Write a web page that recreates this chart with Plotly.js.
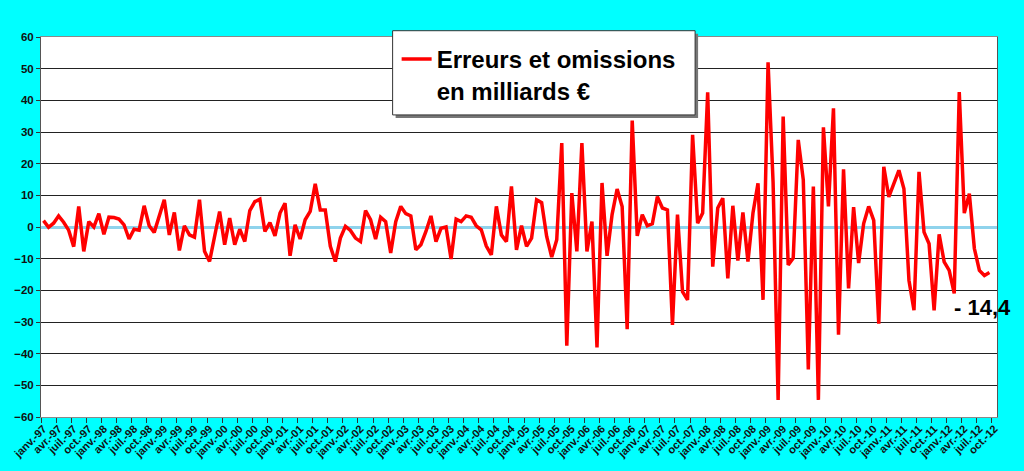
<!DOCTYPE html>
<html>
<head>
<meta charset="utf-8">
<script src="https://cdn.plot.ly/plotly-3.0.1.min.js"></script>
<style>
  html, body { margin: 0; padding: 0; background: #00FFFF; }
  #chart { width: 1024px; height: 471px; }
</style>
</head>
<body>
<div id="chart"></div>
<script>
// Month names (French abbreviations) and years covered by the category axis
const monthNames = ['janv.', 'févr.', 'mars', 'avr.', 'mai', 'juin', 'juil.', 'août', 'sept.', 'oct.', 'nov.', 'déc.'];
const firstYear = 1997;
const categoryCount = 190; // janv.-97 ... oct.-12

// Monthly errors and omissions, in billions of euros
const values = [
  2.0, -0.1, 1.2, 3.5, 1.5, -1.0, -6.2, 6.5, -7.7, 1.7, 0.0, 4.2,
  -2.3, 3.1, 3.0, 2.5, 0.7, -3.8, -0.7, -1.0, 6.7, 0.4, -1.7, 3.9,
  8.6, -2.5, 4.6, -7.4, 0.4, -2.5, -3.2, 8.6, -7.7, -10.9, -3.0, 4.9,
  -5.6, 2.8, -5.6, -0.7, -4.6, 5.2, 8.0, 8.8, -1.4, 1.4, -2.8, 4.4,
  7.5, -9.1, 0.7, -3.8, 2.3, 4.9, 13.6, 5.4, 5.4, -6.1, -10.9, -3.5,
  0.2, -1.1, -3.5, -4.6, 5.2, 2.3, -3.8, 3.1, 1.7, -8.2, 1.7, 6.5,
  4.2, 3.5, -7.2, -5.6, -1.4, 3.5, -4.6, -0.4, 0.0, -10.1, 2.5, 1.7,
  3.5, 3.1, 0.4, -0.9, -6.0, -8.8, 6.5, -2.5, -4.6, 12.8, -7.2, 0.4,
  -6.1, -3.5, 8.6, 7.7, -3.0, -9.5, -4.0, 26.5, -37.5, 10.7, -7.7, 26.5,
  -7.7, 1.7, -38.0, 13.9, -9.1, 3.9, 12.0, 6.5, -32.3, 33.6, -2.8, 3.9,
  0.4, 1.0, 9.6, 6.0, 5.4, -30.9, 3.9, -20.4, -23.0, 29.1, 1.2, 4.4,
  42.5, -12.5, 6.0, 9.1, -16.2, 6.7, -10.6, 4.6, -10.9, 4.4, 13.8, -23.0,
  52.0, 14.0, -54.6, 34.9, -12.0, -9.8, 27.5, 14.9, -45.0, 12.8, -54.6, 31.5,
  6.5, 37.5, -34.0, 18.2, -19.4, 6.3, -11.4, 1.1, 6.5, 2.1, -30.5, 19.0,
  9.5, 13.7, 17.9, 12.1, -16.8, -26.3, 17.4, -1.6, -5.3, -26.3, -2.3, -11.0,
  -13.7, -21.0, 42.6, 4.4, 10.5, -6.8, -13.7, -15.3, -14.4
];

const lastLabel = '- 14,4';
const seriesName = 'Erreurs et omissions<br>en milliards €';

// Category labels for every month of the axis
const categories = [];
for (let i = 0; i < categoryCount; i++) {
  const m = i % 12;
  const y = firstYear + Math.floor(i / 12);
  categories.push(monthNames[m] + '-' + String(y % 100).padStart(2, '0'));
}
// Tick labels: one every quarter
const tickVals = [];
const tickText = [];
for (let i = 0; i < categoryCount; i += 3) {
  tickVals.push(i);
  tickText.push(categories[i]);
}
const xIdx = values.map((v, i) => i);

const trace = {
  type: 'scatter',
  mode: 'lines',
  x: xIdx,
  y: values,
  name: seriesName,
  text: values.map((v, i) => categories[i]),
  hovertemplate: '%{text}: %{y}<extra></extra>',
  line: { color: '#FF0000', width: 3.5 }
};

const layout = {
  width: 1024,
  height: 471,
  paper_bgcolor: '#00FFFF',
  plot_bgcolor: '#FFFFFF',
  margin: { l: 41, r: 27, t: 37, b: 54 },
  font: { family: 'Liberation Sans, Arial, sans-serif', color: '#111' },
  showlegend: true,
  legend: {
    x: 0.372, xanchor: 'left',
    y: 1.0, yanchor: 'top',
    bgcolor: 'rgba(0,0,0,0)',
    borderwidth: 0,
    valign: 'top',
    itemwidth: 30,
    font: { family: 'Liberation Sans, Arial, sans-serif', size: 24, weight: 'bold', color: '#000' }
  },
  xaxis: {
    range: [-0.5, categoryCount - 0.5],
    tickmode: 'array',
    tickvals: tickVals,
    ticktext: tickText,
    tickangle: -45,
    ticks: '',
    tickfont: { size: 11, weight: 'bold', color: '#111' },
    showgrid: false,
    zeroline: false,
    showline: true,
    linecolor: '#8a8a8a',
    linewidth: 1,
    mirror: true,
    minor: { tickmode: 'linear', tick0: -0.5, dtick: 3, ticks: 'outside', ticklen: 5, tickcolor: '#333', tickwidth: 1, showgrid: false }
  },
  yaxis: {
    range: [-60, 60],
    tickmode: 'linear',
    tick0: -60,
    dtick: 10,
    ticks: 'outside',
    ticklen: 4,
    tickcolor: '#333',
    tickfont: { size: 11.5, weight: 'bold', color: '#111' },
    showgrid: true,
    gridcolor: '#222',
    gridwidth: 1,
    zeroline: true,
    zerolinecolor: '#8fd3ec',
    zerolinewidth: 3,
    showline: true,
    linecolor: '#555',
    linewidth: 1,
    mirror: true
  },
  shapes: [
    // zero line darker core
    { type: 'line', xref: 'paper', yref: 'y', x0: 0, x1: 1, y0: 0, y1: 0, layer: 'between',
      line: { color: '#3f86a8', width: 1 } },
    // legend box shadow
    { type: 'rect', xref: 'paper', yref: 'paper',
      x0: 0.3678 + 3 / 955.4, x1: 0.6842 + 3 / 955.4,
      y0: 1 - (115 - 37) / 380.4 - 3 / 380.4, y1: 1 + (37 - 30.7) / 380.4 - 3 / 380.4,
      layer: 'above', line: { width: 0 }, fillcolor: '#777' },
    // legend box
    { type: 'rect', xref: 'paper', yref: 'paper',
      x0: 0.3678, x1: 0.6842,
      y0: 1 - (115 - 37) / 380.4, y1: 1 + (37 - 30.7) / 380.4,
      layer: 'above', line: { color: '#333', width: 1 }, fillcolor: '#FFFFFF' }
  ],
  annotations: [
    {
      xref: 'x', yref: 'paper',
      x: 180.5, y: (417.4 - 308) / 380.4,
      xanchor: 'left', yanchor: 'middle',
      text: lastLabel,
      showarrow: false,
      font: { family: 'Liberation Sans, Arial, sans-serif', size: 22, weight: 'bold', color: '#000' }
    }
  ]
};

Plotly.newPlot('chart', [trace], layout, { displayModeBar: false, responsive: false });
</script>
</body>
</html>
